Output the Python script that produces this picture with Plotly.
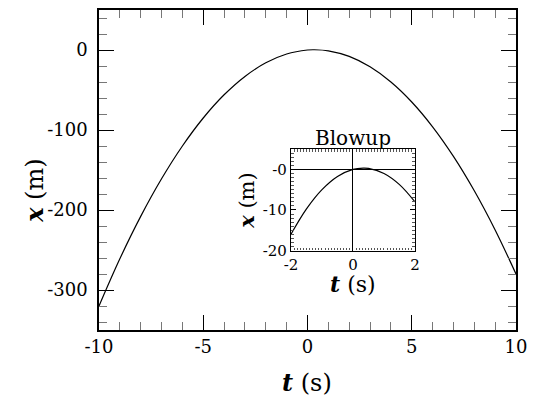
import plotly.graph_objects as go

# Main curve samples
t_main = [-10, -9, -8, -7, -6, -5, -4, -3, -2, -1, 0, 0.33, 1, 2, 3, 4, 5, 6, 7, 8, 9, 10]
x_main = [-320, -261, -208, -161, -120, -85, -56, -33, -16, -5, 0, 0.33, -1, -8, -21, -40, -65, -96, -133, -176, -225, -280]

# Inset (blowup) samples
t_inset = [-2, -1.5, -1, -0.5, 0, 0.33, 0.5, 1, 1.5, 2]
x_inset = [-16, -9.75, -5, -1.75, 0, 0.33, 0.25, -1, -3.75, -8]

main_xticks = [-10, -5, 0, 5, 10]
main_yticks = [0, -100, -200, -300]
inset_xticks = [-2, 0, 2]
inset_yticks = [0, -10, -20]
inset_yticktext = ["-0", "-10", "-20"]

FONT = "DejaVu Serif"

fig = go.Figure()
fig.add_trace(go.Scatter(x=t_main, y=x_main, mode="lines", line=dict(color="black", width=1.2, shape="spline"),
                         xaxis="x", yaxis="y", showlegend=False, hoverinfo="skip"))
fig.add_trace(go.Scatter(x=t_inset, y=x_inset, mode="lines", line=dict(color="black", width=1.2, shape="spline"),
                         xaxis="x2", yaxis="y2", showlegend=False, hoverinfo="skip"))

axis_common = dict(showline=True, linecolor="black", linewidth=1.5, mirror="allticks", ticks="inside",
                   tickcolor="black", showgrid=False, zeroline=False,
                   tickfont=dict(family=FONT, size=18, color="black"))

fig.update_layout(
    width=537, height=400,
    margin=dict(l=99, r=21, t=8, b=70),
    paper_bgcolor="white", plot_bgcolor="white",
    xaxis=dict(range=[-10, 10], tickvals=main_xticks, ticktext=["-10", "-5", "0", "5", "10"],
               ticklen=15, tickwidth=1, ticklabelstandoff=0,
               minor=dict(dtick=1, ticklen=8, ticks="inside", tickcolor="#777", showgrid=False),
               **axis_common),
    yaxis=dict(range=[-350, 50], tickvals=main_yticks, ticktext=["0", "-100", "-200", "-300"],
               ticklen=15, tickwidth=1, ticklabelstandoff=6,
               minor=dict(dtick=20, ticklen=8, ticks="inside", tickcolor="#777", showgrid=False),
               **axis_common),
    xaxis2=dict(domain=[0.4604, 0.7578], anchor="y2", range=[-2, 2], tickvals=inset_xticks,
                ticktext=["-2", "0", "2"], ticklen=5, tickwidth=1,
                minor=dict(dtick=0.1, ticklen=2.5, ticks="inside", tickcolor="#555", showgrid=False),
                showline=True, linecolor="black", linewidth=1.2, mirror="allticks", ticks="inside",
                tickcolor="black", showgrid=False, zeroline=True, zerolinecolor="black", zerolinewidth=1,
                tickfont=dict(family=FONT, size=15, color="black")),
    yaxis2=dict(domain=[0.2484, 0.5652], anchor="x2", range=[-20, 5], tickvals=inset_yticks,
                ticktext=inset_yticktext, ticklen=5, tickwidth=1,
                minor=dict(dtick=1, ticklen=2.5, ticks="inside", tickcolor="#555", showgrid=False),
                showline=True, linecolor="black", linewidth=1.2, mirror="allticks", ticks="inside",
                tickcolor="black", showgrid=False, zeroline=True, zerolinecolor="black", zerolinewidth=1,
                tickfont=dict(family=FONT, size=15, color="black")),
    annotations=[
        dict(text="<b><i>t</i></b> (s)", x=307, y=383, showarrow=False,
             font=dict(family=FONT, size=24, color="black")),
        dict(text="<b><i>x</i></b> (m)", x=35, y=190, textangle=-90, showarrow=False,
             font=dict(family=FONT, size=24, color="black")),
        dict(text="Blowup", x=353, y=137, showarrow=False, font=dict(family=FONT, size=20, color="black")),
        dict(text="<b><i>t</i></b> (s)", x=353, y=284, showarrow=False, font=dict(family=FONT, size=22, color="black")),
        dict(text="<b><i>x</i></b> (m)", x=247, y=200, textangle=-90, showarrow=False,
             font=dict(family=FONT, size=21, color="black")),
    ],
)

# convert pixel positions for annotations into paper coordinates
pw, ph = 537 - 99 - 21, 400 - 8 - 70
for a in fig.layout.annotations:
    px, py = a.x, a.y
    a.x = (px - 99) / pw
    a.y = (330 - py) / ph
    a.xref = "paper"
    a.yref = "paper"
    a.xanchor = "center"
    a.yanchor = "middle"

fig.write_html("out.html", config={"displayModeBar": False},
               post_script="document.body.style.margin='0';document.body.style.padding='0';")
